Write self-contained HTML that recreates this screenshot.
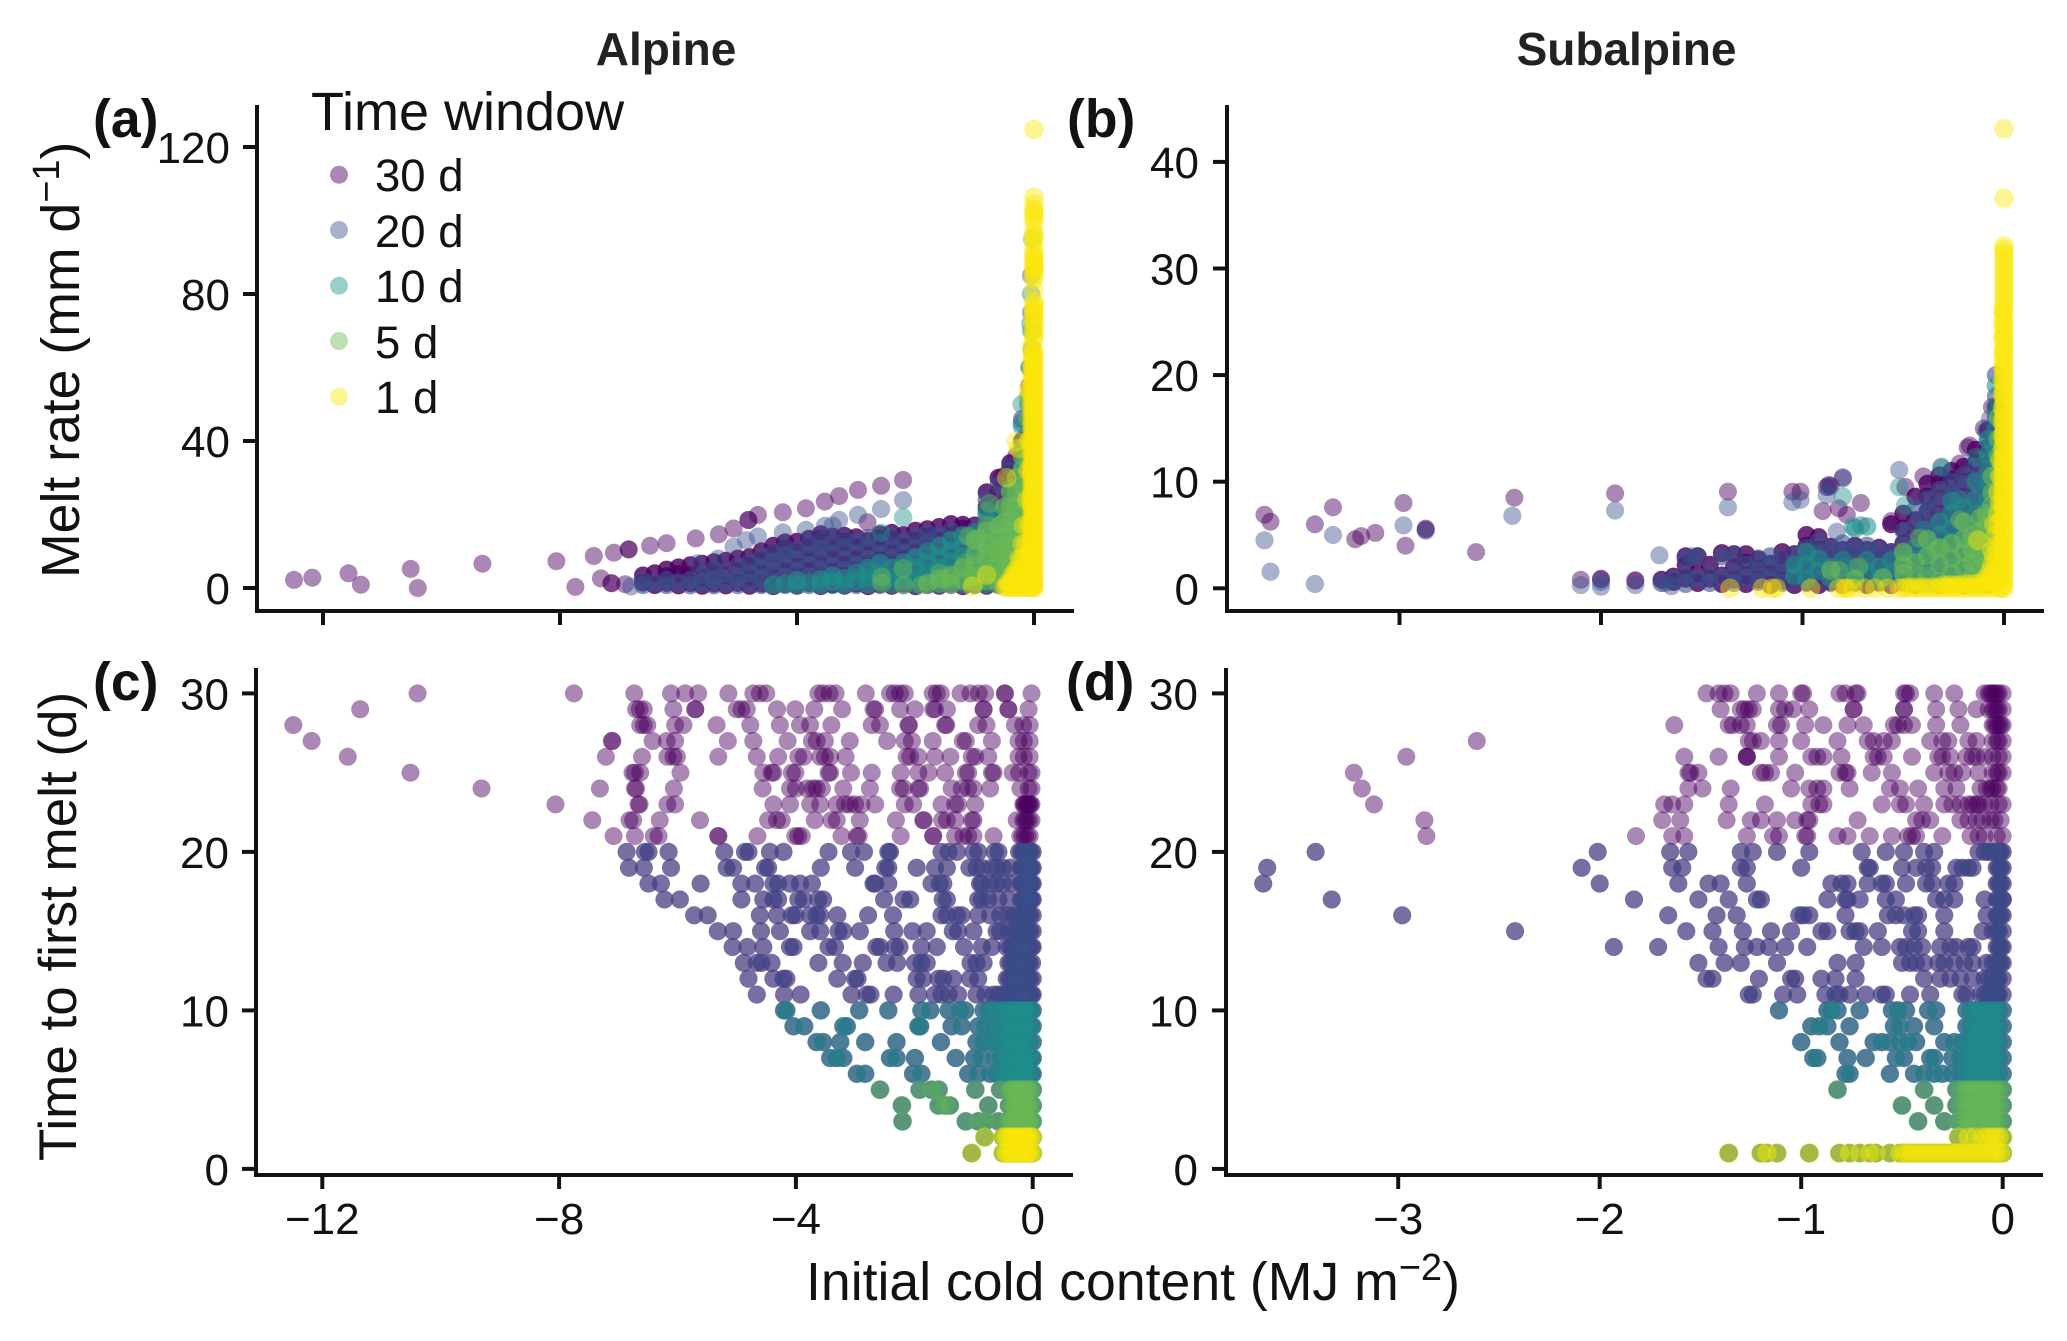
<!DOCTYPE html>
<html lang="en">
<head>
<meta charset="utf-8">
<title>Melt rate and time to first melt versus initial cold content</title>
<style>
html,body{margin:0;padding:0;background:#fff}
svg{display:block}
text{font-family:"Liberation Sans",Arial,sans-serif;fill:#12120e}
.tick{font-size:44px}
.title{font-size:46px;font-weight:bold;fill:#222;text-anchor:middle}
.tag{font-size:53.5px;font-weight:bold}
.axt{font-size:53px}
.leg{font-size:45.5px}
</style>
</head>
<body>
<svg id="fig" xmlns="http://www.w3.org/2000/svg" width="2067" height="1341" viewBox="0 0 2067 1341">
<text class="title" x="666" y="65">Alpine</text>
<text class="title" x="1626.5" y="65">Subalpine</text>
<text class="tag" x="93" y="137">(a)</text>
<text class="tag" x="1067" y="137">(b)</text>
<text class="tag" x="93" y="700">(c)</text>
<text class="tag" x="1066" y="700">(d)</text>
<text class="axt" transform="translate(79,578) rotate(-90)" style="font-size:53.6px">Melt rate (mm d<tspan font-size="38" dy="-20">−1</tspan><tspan dy="20">)</tspan></text>
<text class="axt" transform="translate(76,1161) rotate(-90)">Time to first melt (d)</text>
<text class="axt" x="806" y="1300" style="font-size:53.6px">Initial cold content (MJ m<tspan font-size="38" dy="-20">−2</tspan><tspan dy="20">)</tspan></text>
<g id="marks"></g>
<g id="axes"></g>
<g id="legend">
<text x="311" y="130" style="font-size:54px">Time window</text>
</g>
</svg>
<script>
const windows = [30, 20, 10, 5, 1];
const windowMaxDay = [30, 20, 10, 5, 2];
const windowColors = ['#4a0060', '#3a4f8b', '#1e908a', '#6ab955', '#fbe70a'];
const windowLabels = ['30 d', '20 d', '10 d', '5 d', '1 d'];

const aXTicks = [-12, -8, -4, 0];
const aYTicks = [0, 40, 80, 120];
const bXTicks = [-3, -2, -1, 0];
const bYTicks = [0, 10, 20, 30, 40];
const cXTicks = [-12, -8, -4, 0];
const cYTicks = [0, 10, 20, 30];
const dXTicks = [-3, -2, -1, 0];
const dYTicks = [0, 10, 20, 30];

/* Panel (a): alpine melt rate, [cold content, melt rate] */
const a30 = [[-12.49,2.2],[-12.18,2.8],[-11.57,4],[-11.36,.9],[-10.52,5.2],[-10.4,0],[-9.31,6.6],[-8.06,7.3],[-7.74,.3],[-7.43,8.7],[-7.09,9.6],[-6.84,10.5],[-6.84,10.5],[-7.31,2.6],[-7.13,1.3],[-7.13,1.3],[-6.9,1],[-6.48,11.5],[-6.2,12.2],[-5.71,13.5],[-5.32,14.6],[-5.07,16.2],[-4.82,18.5],[-4.82,18.5],[-4.66,19.9],[-4.24,20.6],[-3.85,21.7],[-3.53,23.5],[-3.29,25],[-2.97,26.7],[-2.58,27.8],[-2.21,29.4],[-2.81,17.9],[-.55,30],[-.5,30.5],[-.4,33],[-.3,36],[-.2,37],[-.15,41],[-.1,45],[-.08,55]];
const a20 = [[-2.21,23.9],[-2.58,21.5],[-2.97,19.9],[-3.29,18.5],[-3.53,16.9],[-3.85,15.8],[-4.24,15.1],[-4.66,14],[-4.86,13],[-5.07,11.2],[-5.33,8],[-5.68,6.7],[-3.4,17],[-6.8,.4],[-.1,50],[-.08,60],[-.05,75],[-.21,45],[-.06,52],[-.04,65],[-.05,85]];
const a10 = [[-2.21,19.2],[-2.58,15],[-.21,50],[-.06,72],[-.07,60],[-.05,80],[-.03,70]];
const a5 = [[-2.57,3],[-2.57,1.3],[-2.21,5.3],[-2.2,.8],[-1.9,.8],[-1.6,4],[-1.6,1.3],[-1.43,2.6],[-1.11,14],[-.94,13.5],[-.79,11.2],[-.75,23],[-.79,17],[-1.17,6.7],[-1.05,3],[-.03,95],[-.05,70],[-.07,50]];
const a1Sparse = [[-1.04,.5],[-.8,3.5],[-.46,30],[-.3,39.8],[-.26,38],[-.1,54],
[-.5,.2],[-.46,.2],[-.42,.2],[-.38,.2],[-.34,.2],[-.3,.2],[-.26,.2],[-.22,.2],[-.18,.2],[-.14,.2],[-.1,.2],[-.06,.2],[-.02,.2],
[-.44,1.5],[-.4,1.5],[-.36,1.5],[-.32,1.5],[-.28,1.5],[-.24,1.5],[-.2,1.5],[-.16,1.5],[-.12,1.5],[-.08,1.5],[-.04,1.5],
[-.36,3.5],[-.32,3.5],[-.28,3.5],[-.24,3.5],[-.2,3.5],[-.16,3.5],[-.12,3.5],[-.08,3.5],[-.04,3.5],
[-.3,5],[-.26,5],[-.22,5],[-.18,5],[-.14,5],[-.1,5],[-.06,5],
[-.25,8],[-.21,8],[-.17,8],[-.13,8],[-.09,8],[-.05,8],
[-.2,12],[-.15,12],[-.1,12],[-.05,12],[-.18,17],[-.1,17],[-.05,17],[-.12,24],[-.06,24],[-.1,32],[-.05,32],[-.08,40]];
const a1BarRates = [124.8,106.4,104.5,103,102.3,101.5,100.6,99.5,97,96.2,95.3,94,92,91,90.2,89.5,88.7,88,87.5,87,86,85,84,81,78,77.3,76.5,75.8,75,74.2,73.5,72.5,71.5,70.5,69.5,68.5,67.5,64.5,63.5,62.5,61.5,60.5,59.5,58.5,57.5,56.5,55.5,54.5,53.5,52.5,51.5,50.5,49.5,48.5,47.5,46.5,45.5,44.5,43.5,42.5,41.5,40.5,39.5,38.5,37.5,36.5,35.5,34.5,33.5,32.5,31.5,30.5,29.5,28.5,27.5,26.5,25.5,24.5,23.5,22.5,21.5,20.5,19.5,18.5,17.5,16.5,15.5,14.5,13.5,12.5,11.5,10.5,9.5,8.5,7.5,6.5,5.5,4.5,3.5,2.5,1.5,.5,0];
const a1BarCold = 0;
const a1SecondRates = [66,64.4,62.9,61.4,59.8,58.2,56.7,55.1,53.6,52,50.5,49,47.4,45.9,44.3,42.8,41.2,39.7,38.1,36.6,35,33.5,31.9,30.4,28.8,27.3,25.7,24.2,22.6,21.1,19.5,18,16.4,14.9,13.3,11.8,10.2,8.7,7.1,5.6,4,2.5,.9];
const a1SecondCold = -0.035;

/* Panel (a) dense cloud, read column by column: cold content and the melt rates in each column */
const aCloudCold = [-6.6,-6.4,-6.2,-6,-5.8,-5.6,-5.4,-5.2,-5,-4.8,-4.6,-4.4,-4.2,-4,-3.8,-3.6,-3.4,-3.2,-3,-2.8,-2.6,-2.4,-2.2,-2,-1.8,-1.6,-1.4,-1.2,-1,-.8,-.6,-.4,-.2];
const a30CloudRates = [[1.5,3.4],[.8,4],[1.4,3.2,5],[.7,3.8,5.6],[1.3,3.5,6.2],[.6,2.8,6.6],[1.2,4.4,7],[.7,3.4,7.4],[1.4,4.6,8],[.6,3,6,8.4],[1.2,4.2,7.5,10],[.5,3.2,6.4,9.5,11.5],[1.1,4.6,7.8,11,12.4],[.6,3.4,6.6,9.6,12.6],[1.3,4.8,8,11,13.4],[.5,3.6,6.8,10,13.2,14.6],[1,4.4,7.6,10.8,14],[.6,3.4,6.4,9.8,12.6,14.2],[1.2,4.6,7.8,11,13.8],[.5,3.2,6.6,9.6,12.8],[1.1,4.2,7.4,10.6,13.6,14.6],[.6,3.6,6.8,10,13.2,15],[1.2,4.8,8,11.2,14.4],[.5,3.4,6.6,9.8,13,15.6],[1,4.4,7.6,10.8,14,16],[.6,3.2,6.4,9.6,12.8,16.6],[1.2,4.6,7.8,11,14.2,17.4],[.5,3.4,6.6,9.8,13,16.2,17.2],[1,4.2,7.4,10.6,13.8,17],[.6,3.6,7,10.4,13.8,17.2,22,26],[1.2,4.8,8.2,11.6,15,18.4,21.8,26,30],[.8,4,7.6,11,14.4,17.8,21.2,24.6,28,31,34],[1,4.4,8,12,16,20,24,28,32,36,40]];
const a20CloudRates = [[.8,2],[1.4],[.8,2.2],[1.5],[.7,2.2],[1.4,3.6],[.7,2.4,5],[1.5,4],[.8,2.6,6],[1.5,4,7],[.8,2.8,5.5,8.4],[1.5,4.4,7.2,9.6],[.8,3,6,9,11],[1.5,4.4,7.4,10.4],[.8,3,6.2,9.2,12],[1.5,4.4,7.6,10.8,13],[.8,3,6,9.4,12.4],[1.6,4.6,7.8,11,13.4],[.8,3,6.2,9.4,12.6],[1.6,4.4,7.6,10.8,13.6],[.8,3,6,9.2,12.2],[1.6,4.6,7.6,11,14],[.8,3,6.2,9.4,12.6],[1.6,4.4,7.6,10.8,14.2],[.8,3,6,9.2,12.4,15],[1.6,4.6,7.8,11,14.4],[.8,3,6.2,9.4,12.6,15.6],[1.6,4.4,7.6,10.8,14],[.8,3,6,9.4,12.6,15.8],[1.6,4.6,8,11.4,14.8,20,24],[.8,3,6.4,10,13.6,17,22,28],[1.6,5,8.6,12.2,15.8,19.4,24,30,33],[1,4,8,12,16,20,24,28,34,40,46]];
const a10CloudCold = [-4.4,-4.2,-4,-3.8,-3.6,-3.4,-3.2,-3,-2.8,-2.6,-2.4,-2.2,-2,-1.8,-1.6,-1.4,-1.2,-1,-.8,-.6,-.4,-.2];
const a10CloudRates = [[.8],[1.2],[.7,2.2],[1.4],[.8,2.4],[1.6,3.4],[.8,2.6],[1.8,4.2],[1,3,5.5],[1.8,4,6.8],[1,3,5.6],[1.8,4.2,7],[1,3,5.6,8.4],[1.8,4.2,7,10],[1,3,5.6,8.6,11.4],[1.8,4.4,7.2,10.2,13],[1,3,5.8,8.6,11.6,14.4],[1.8,4.4,7.4,10.4,13.4,15],[1,3,6,9,12,15,18,21],[1.8,4.6,7.6,10.6,13.6,16.6,20],[1,3.6,6.6,9.6,12.6,15.6,19,23,27],[1,4,7,10,13,16,20,24,28,33,38,44]];
const a5CloudCold = [-1.8,-1.6,-1.4,-1.2,-1,-.8,-.6,-.5,-.4,-.3,-.2,-.1];
const a5CloudRates = [[1.2],[2.5],[1,3.4],[2,5.5],[1,3.4,6,9,13],[2,4.4,7,9.5,12,15.6],[1.2,3.6,6.4,9,11.6,14.4,17],[2.4,5.2,8,11,14,18,22],[1,3.6,6.4,9.2,12,15,18,22,26],[2,5,8,11,14,18,22,26,30],[1,4,7,10,13,16,20,24,28,32,36],[2,6,10,14,18,22,26,30,35,40,46,52]];

/* Panel (b): subalpine melt rate, [cold content, melt rate] */
const b30 = [[-3.67,6.9],[-3.64,6.25],[-3.42,6],[-3.33,7.6],[-3.22,4.6],[-3.19,4.9],[-3.12,5.2],[-2.98,8],[-2.97,4],[-2.87,5.5],[-2.87,5.6],[-2.62,3.4],[-2.43,8.5],[-1.93,8.9],[-1.37,9.06],[-2.1,.8],[-2,.85],[-2,.9],[-1.83,.7],[-1.83,.75],[-1.05,9.06],[-1.01,9.06],[-.87,9.7],[-.88,9.5],[-.86,9.6],[-.8,10.4],[-.9,7.25],[-.82,7.5],[-.71,8],[-.78,6.9],[-.49,9.5],[-.56,6.3],[-.4,10.5],[-.22,11.7],[-.17,13.4],[-.18,13.2],[-.1,15],[-.06,17]];
const b20 = [[-3.67,4.5],[-3.64,1.56],[-3.42,.4],[-3.33,5],[-2.98,5.9],[-2.87,5.4],[-2.44,6.8],[-1.93,7.3],[-1.37,7.6],[-2.1,.3],[-2,.15],[-2,.6],[-1.83,.3],[-1.05,8.1],[-1.01,8.3],[-.88,8.75],[-.87,9.5],[-.8,10.3],[-.83,5.3],[-.71,5.9],[-.52,11.1],[-.31,11.4],[-.07,15.9],[-.09,14.8],[-1.71,3.1],[-1.68,.5],[-1.65,.2],[-1.55,3]];
const b10 = [[-.8,8.6],[-.75,5.8],[-.52,9.5],[-.49,7.8],[-.31,11.3],[-.14,12.3],[-.4,5.5],[-.22,8.3]];
const b5 = [[-.82,1.7],[-.72,2],[-.42,4.7],[-.34,3.6],[-.22,6.4]];
const b1Sparse = [[-1.36,0],[-1.2,0],[-1.15,0],[-1.13,0],[-.96,0],[-.82,0],[-.79,0],[-.78,0],[-.75,0],[-.69,0],[-.64,0],[-.58,0],[-.13,4.5],
[-.52,0],[-.5,0],[-.48,.1],[-.46,0],[-.44,.1],[-.42,0],[-.4,.1],[-.38,0],[-.36,.1],[-.34,0],[-.32,.1],[-.3,0],[-.28,.1],[-.26,0],[-.24,.1],[-.22,0],[-.2,.1],[-.18,0],[-.16,.1],[-.14,0],[-.12,.1],[-.1,0],[-.08,.1],[-.06,0],[-.04,.1],[-.02,0],
[-.3,.3],[-.27,.3],[-.24,.3],[-.21,.3],[-.18,.4],[-.15,.4],[-.12,.5],[-.09,.6],[-.06,.6],[-.03,.6],
[-.09,1],[-.07,1],[-.05,1],[-.03,1],[-.07,1.6],[-.05,1.6],[-.03,1.6],[-.06,2.2],[-.04,2.2],[-.02,2.2],[-.05,3],[-.03,3],[-.06,3.5],[-.04,4],[-.02,4],[-.04,5],[-.03,6],[-.05,6],[-.03,7],[-.02,8],[-.03,9],[-.02,10.5],[-.02,12]];
const b1BarRates = [43.1,36.6,32.1,31.8,31.5,31.2,30.8,30.4,30,29.6,29.2,28.8,28.4,28,27.6,27.2,26.8,26.4,26,25.6,25.2,24.8,24.4,24,23.6,23.2,22.8,22.4,22,21.6,21.2,20.8,20.4,20,19.6,19.2,18.8,18.4,18,17.6,17.2,16.8,16.4,16,15.6,15.2,14.8,14.4,14,13.6,13.2,12.8,12.4,12,11.6,11.2,10.8,10.4,10,9.6,9.2,8.8,8.4,8,7.6,7.2,6.8,6.4,6,5.6,5.2,4.8,4.4,4,3.6,3.2,2.8,2.4,2,1.6,1.2,.8,.4,0];
const b1BarCold = 0;
const b1SecondRates = [26,24.8,23.5,22.1,20.8,19.5,18.2,16.9,15.6,14.3,13,11.7,10.4,9.1,7.8,6.5,5.2,3.9,2.6,1.3,0];
const b1SecondCold = -0.008;

/* Panel (b) dense cloud, read column by column */
const bCloudCold = [-1.7,-1.64,-1.58,-1.52,-1.46,-1.4,-1.34,-1.28,-1.22,-1.16,-1.1,-1.04,-.98,-.92,-.86,-.8,-.74,-.68,-.62,-.56,-.5,-.44,-.38,-.32,-.26,-.2,-.14,-.08,-.04];
const b30CloudRates = [[.8],[.6,1.1],[.9,2.2,3],[.5,1.4,3],[.9,2.2],[.4,1.2,3.3],[.8,2,3.2],[.4,1.2,2.4,3.2],[.8,1.8,2.7],[.3,1.3,2.3],[.7,1.7,2.6,3.4],[.3,1.2,2.2,3.2],[.6,1.6,2.8,4,5],[.3,1.2,2.4,3.6,4.8],[.6,1.7,2.8,3.9],[.3,1.2,2.4,3.6],[.6,1.7,2.8,4],[.3,1.2,2.4,3.6],[.6,1.7,2.8,3.8],[.3,1.2,2.4,3.4,6],[.6,1.8,3,4.2,5.6,7],[.3,1.3,2.5,3.8,5,6.4,8.6],[.6,1.8,3,4.4,5.8,7.2,8.6,9.8],[.3,1.4,2.8,4.2,5.6,7,8.4,9.8,10.6],[.6,1.9,3.2,4.6,6,7.4,8.8,10.2,11],[.3,1.6,3,4.4,5.8,7.2,8.6,10,11.4],[.6,2,3.4,4.8,6.2,7.6,9,10.4,11.8,13],[.4,2,3.6,5.2,6.8,8.4,10,11.6,13.2,14.8],[1,3,5,7,9,11,13,15,17]];
const b20CloudRates = [[.5],[.9],[.4,1.2,2.8],[.9,3],[.5,1.4],[1,3],[.5,1.5,3.2],[1,2.2],[.6,1.6,2.8],[1,2,3],[.5,1.5,2.6],[1,2.1,3.2],[.5,1.6,2.8,3.8],[1,2.2,3.4,4.4],[.5,1.6,2.8,3.8],[1,2.2,3.4,4.2],[.5,1.6,2.8,3.8],[1,2.2,3.4,4],[.5,1.6,2.8,3.6],[1,2.2,3.4],[.5,1.6,2.8,4,5.4],[1,2.2,3.4,4.6,6,7.4],[.5,1.7,3,4.4,5.8,7.2,8.4],[1,2.3,3.6,5,6.4,7.8,9.2],[.5,1.8,3.2,4.6,6,7.4,8.8,10],[1,2.4,3.8,5.2,6.6,8,9.4,10.6],[.5,1.9,3.3,4.7,6.1,7.5,8.9,10.3,11.5],[1,2.6,4.2,5.8,7.4,9,10.6,12.2,13.8],[2,4,6,8,10,12,14,16,18,20]];
const b10CloudCold = [-1.04,-.98,-.92,-.86,-.8,-.74,-.68,-.62,-.56,-.5,-.44,-.38,-.32,-.26,-.2,-.14,-.08,-.04];
const b10CloudRates = [[1.2,2.2],[.8,2.2,3.4],[1.6,2.8],[.9,2],[1.4,2.6],[.8,2,5.6],[1.4,2.6,5.8],[.8,2],[1.4,2.6],[.8,2,3.2],[1.4,2.6,3.8],[.8,2,3.2,4.4],[1.4,2.6,3.8,5,6.2],[.8,2,3.2,4.4,5.6,7,8.2],[1.4,2.6,3.8,5,6.2,7.6],[.8,2,3.2,4.4,5.6,7,8.4,10],[1.4,2.8,4.2,5.6,7,8.4,9.8,11.2,12.6,14],[1,3,5,7,9,11,13,15,17,19]];
const b5CloudCold = [-.86,-.74,-.6,-.5,-.44,-.38,-.32,-.26,-.2,-.16,-.12,-.09,-.06,-.03];
const b5CloudRates = [[1.7],[.9],[1],[1.4,2.2,3.4],[.7,2.4],[1.2,3,4.6],[.6,2.2,3.8],[1.4,2.8,4.2],[.6,2,3.4,4.6,6.2],[1,2.4,3.6,5],[.6,1.8,3,4.2,5.4,6.6],[1,2.2,3.4,4.6,5.8,7],[.6,1.8,3,4.2,5.4,6.6,7.8,9,10.5],[1.2,2.8,4.4,6,7.6,9.2,10.8,12.4,14,16]];

/* Panels (c, d): days to first melt and the cold content of each event on that day */
const meltDays = [30,29,28,27,26,25,24,23,22,21,20,19,18,17,16,15,14,13,12,11,10,9,8,7,6,5,4,3,2,1];
const cCold = [
[-10.39,-7.75,-6.73,-6.11,-5.87,-5.65,-5.14,-4.72,-4.61,-4.5,-3.62,-3.54,-3.43,-3.33,-2.82,-2.41,-2.33,-2.24,-2.16,-1.69,-1.62,-1.55,-1.22,-1.05,-.91,-.8,-.47,-.47,-.02],
[-11.36,-6.7,-6.64,-6.57,-6.07,-5.7,-5.7,-5,-4.92,-4.83,-4.32,-4.01,-3.69,-3.22,-2.69,-2.66,-2.24,-1.99,-1.68,-1.65,-1.45,-.83,-.83,-.41,-.41,-.07],
[-12.49,-6.63,-6.57,-6.51,-6.04,-5.9,-5.34,-4.77,-4.27,-3.93,-3.76,-3.4,-2.72,-2.58,-2.1,-2.09,-1.48,-1.46,-.92,-.78,-.3,-.16,-.05],
[-12.18,-7.11,-7.1,-6.42,-6.18,-6.04,-5.15,-4.72,-4.14,-3.73,-3.65,-3.51,-3.09,-2.46,-2.16,-2.04,-1.69,-1.18,-1.13,-.69,-.24,-.15,-.05],
[-11.57,-7.21,-6.6,-6.17,-6.07,-6.01,-5.31,-4.66,-4.3,-3.96,-3.87,-3.59,-3.51,-3.42,-3.16,-2.13,-2.07,-1.93,-1.65,-1.39,-1.03,-.97,-.75,-.24,-.15,-.05],
[-10.51,-6.76,-6.72,-6.63,-5.95,-4.55,-4.41,-4.38,-4.07,-4.01,-3.45,-3.42,-3.07,-2.72,-2.23,-1.93,-1.76,-1.48,-1.13,-1.09,-.69,-.66,-.34,-.23,-.07,-.02],
[-9.31,-7.31,-6.72,-6.7,-6.06,-4.56,-4.1,-4,-3.81,-3.71,-3.65,-3.56,-3.2,-2.75,-2.24,-2.18,-1.93,-1.9,-1.37,-1.2,-1.09,-1,-.72,-.21,-.07,-.02],
[-8.06,-6.66,-6.64,-6.17,-6.04,-4.38,-4.1,-3.76,-3.59,-3.31,-3.17,-3.09,-3,-2.89,-2.66,-2.16,-2.02,-1.54,-1.31,-1.26,-.97,-.16,-.13,-.1,-.06,-.02,-.14,-.08,-.04],
[-7.44,-6.81,-6.75,-6.3,-5.62,-4.47,-4.32,-4.24,-3.68,-3.4,-3.31,-2.92,-2.31,-1.85,-1.84,-1.53,-1.45,-1.31,-1.03,-1,-.27,-.16,-.1,-.02,-.13,-.06],
[-7.08,-6.72,-6.4,-6.32,-5.31,-5.31,-4.65,-4.01,-3.96,-3.9,-3.23,-2.97,-2.94,-2.23,-1.68,-1.68,-1.31,-1.17,-1.09,-1,-.66,-.21,-.13,-.05,-.17,-.09],
[-6.86,-6.55,-6.49,-6.15,-5.21,-4.86,-4.8,-4.44,-4.21,-3.45,-3.07,-2.85,-2.44,-2.41,-1.54,-1.42,-1.28,-1,-.92,-.64,-.58,-.23,-.19,-.15,-.11,-.07,-.03,0],
[-6.82,-6.57,-6.11,-5.17,-5.06,-4.52,-4.47,-3.58,-3,-2.49,-2.44,-1.96,-1.65,-1.45,-1.07,-.95,-.86,-.69,-.61,-.5,-.38,-.2,-.17,-.14,-.11,-.08,-.05,-.02,0],
[-6.49,-6.28,-5.61,-4.92,-4.69,-4.38,-4.3,-4.1,-3.93,-3.73,-2.69,-2.66,-2.44,-1.71,-1.57,-1.51,-.89,-.86,-.72,-.61,-.5,-.35,-.2,-.17,-.14,-.11,-.08,-.05,-.02,0],
[-6.22,-5.96,-4.92,-4.55,-4.38,-4.3,-3.96,-3.87,-3.62,-3.54,-2.51,-2.18,-2.07,-1.52,-1.45,-.92,-.86,-.75,-.58,-.41,-.2,-.17,-.14,-.11,-.08,-.05,-.02,0],
[-5.72,-5.49,-4.61,-4.32,-4.07,-4.01,-3.76,-3.65,-3.59,-3.3,-2.78,-2.36,-1.54,-1.45,-1.28,-1.2,-.92,-.72,-.55,-.44,-.32,-.26,-.2,-.16,-.12,-.08,-.04,0],
[-5.32,-5.06,-4.59,-4.27,-3.76,-3.59,-3.28,-3.2,-2.92,-2.34,-2.03,-1.79,-1.35,-1.26,-1,-.61,-.55,-.41,-.32,-.26,-.2,-.16,-.12,-.08,-.04,0],
[-5.07,-4.82,-4.55,-4.1,-4.04,-3.45,-3.34,-2.64,-2.58,-2.33,-2.25,-1.88,-1.62,-1.16,-.86,-.69,-.44,-.38,-.34,-.3,-.26,-.22,-.18,-.14,-.1,-.06,-.02,0],
[-4.88,-4.66,-4.58,-4.41,-3.62,-3.21,-2.87,-2.47,-2.29,-1.99,-1.88,-1.79,-1.05,-.95,-.83,-.41,-.37,-.33,-.29,-.25,-.21,-.17,-.13,-.09,-.05,-.01],
[-4.8,-4.38,-4.21,-4.16,-3.3,-3,-2.96,-1.96,-1.85,-1.59,-1.51,-1.34,-1.06,-.92,-.44,-.4,-.36,-.32,-.28,-.24,-.2,-.16,-.12,-.08,-.04,0],
[-4.66,-4.2,-3.92,-3.06,-2.8,-2.74,-2.35,-1.93,-1.65,-1.54,-1.42,-1.26,-.95,-.8,-.66,-.58,-.5,-.44,-.38,-.34,-.3,-.26,-.22,-.18,-.14,-.1,-.06,-.02,0],
[-4.2,-4.16,-3.58,-2.93,-2.44,-1.88,-1.73,-1.42,-1.23,-1.14,-.83,-.75,-.66,-.58,-.5,-.44,-.38,-.33,-.28,-.23,-.18,-.13,-.08,-.03,0],
[-4.04,-3.86,-3.2,-3.14,-1.93,-1.9,-1.37,-1.2,-.92,-.8,-.69,-.58,-.5,-.44,-.38,-.33,-.28,-.23,-.18,-.13,-.08,-.03,0],
[-3.65,-3.54,-3.25,-2.83,-2.3,-1.55,-.95,-.83,-.72,-.61,-.52,-.46,-.4,-.35,-.3,-.25,-.2,-.15,-.1,-.05,0],
[-3.42,-3.31,-3.2,-2.41,-2.3,-1.99,-1.3,-.99,-.86,-.64,-.54,-.48,-.42,-.37,-.32,-.27,-.22,-.17,-.12,-.07,-.02,0],
[-2.97,-2.83,-2.02,-1.88,-1.09,-.92,-.72,-.61,-.54,-.48,-.42,-.37,-.32,-.27,-.22,-.17,-.12,-.07,-.02,0],
[-2.58,-1.91,-1.71,-1.59,-.97,-.55,-.4,-.36,-.32,-.28,-.24,-.2,-.16,-.12,-.08,-.04,0],
[-2.21,-1.59,-1.48,-1.4,-.75,-.4,-.36,-.32,-.28,-.24,-.2,-.16,-.12,-.08,-.04,0],
[-2.2,-1.13,-.92,-.8,-.58,-.42,-.38,-.34,-.3,-.26,-.22,-.18,-.14,-.1,-.06,-.02,0],
[-.81,-.5,-.46,-.42,-.38,-.34,-.3,-.26,-.22,-.18,-.14,-.1,-.06,-.02,0],
[-1.03,-.5,-.46,-.42,-.38,-.34,-.3,-.26,-.22,-.18,-.14,-.1,-.06,-.02,0]
];
const dCold = [
[-1.47,-1.41,-1.38,-1.35,-1.22,-1.11,-1,-.99,-.81,-.78,-.73,-.72,-.49,-.48,-.46,-.34,-.24,-.09,-.07,-.05,-.03,0,-.06,-.04,-.02],
[-1.4,-1.3,-1.28,-1.26,-1.24,-1.11,-1.08,-1.04,-.96,-.74,-.74,-.49,-.49,-.33,-.22,-.13,-.05,-.02,0,-.07,-.04,-.03],
[-1.63,-1.36,-1.34,-1.3,-1.27,-1.12,-1.1,-.98,-.89,-.77,-.69,-.54,-.52,-.49,-.45,-.33,-.21,-.05,-.04,-.02,0,-.03,-.01],
[-2.61,-1.26,-1.24,-1.2,-1.11,-1,-.82,-.67,-.64,-.59,-.55,-.36,-.3,-.27,-.17,-.13,-.05,-.02,0,-.03],
[-2.96,-1.58,-1.41,-1.27,-1.27,-1.27,-1.11,-.95,-.92,-.89,-.8,-.64,-.62,-.59,-.45,-.32,-.3,-.26,-.18,-.15,-.13,-.09,-.05,-.02,0],
[-3.22,-1.56,-1.55,-1.51,-1.2,-1.18,-1.15,-1.03,-.81,-.78,-.77,-.65,-.55,-.34,-.27,-.24,-.2,-.12,-.05,-.02,0,-.03],
[-3.18,-1.56,-1.49,-1.35,-1.05,-.96,-.92,-.89,-.76,-.56,-.51,-.42,-.29,-.23,-.11,-.08,-.05,-.02,-.06,-.03],
[-3.12,-1.68,-1.64,-1.58,-1.36,-1.18,-.95,-.91,-.89,-.6,-.51,-.48,-.39,-.29,-.25,-.21,-.17,-.15,-.12,-.06,-.02,0,-.13,-.09],
[-2.87,-1.69,-1.6,-1.37,-1.25,-1.2,-1.12,-1.03,-.97,-.96,-.72,-.43,-.4,-.36,-.21,-.17,-.13,-.1,-.06,-.04,-.01],
[-2.86,-1.82,-1.64,-1.58,-1.27,-1.14,-1.11,-.98,-.97,-.82,-.77,-.66,-.55,-.47,-.45,-.43,-.3,-.16,-.12,-.09,-.03,0],
[-3.41,-2.01,-1.65,-1.56,-1.3,-1.24,-1.12,-.96,-.7,-.58,-.49,-.39,-.34,-.12,-.09,-.05,-.01,0,-.07,-.03,-.02],
[-3.65,-2.09,-1.64,-1.59,-1.3,-1.27,-1,-.67,-.66,-.5,-.43,-.38,-.35,-.23,-.2,-.17,-.15,-.03,0,-.02,-.01],
[-3.67,-2,-1.61,-1.46,-1.4,-1.27,-.85,-.8,-.77,-.67,-.6,-.58,-.48,-.38,-.35,-.27,-.24,-.02,0,-.03,-.01],
[-3.33,-1.83,-1.51,-1.36,-1.22,-1.2,-.87,-.78,-.77,-.71,-.58,-.53,-.33,-.29,-.24,-.09,0,0,-.03,-.02],
[-2.98,-1.66,-1.42,-1.32,-1.01,-.99,-.96,-.78,-.57,-.53,-.49,-.44,-.42,-.29,-.08,-.03,0,-.02,-.01],
[-2.42,-1.57,-1.44,-1.29,-1.15,-1.05,-.9,-.87,-.76,-.73,-.71,-.62,-.45,-.42,-.29,-.1,-.05,0,-.03,-.02],
[-1.93,-1.71,-1.41,-1.28,-1.22,-1.16,-1.08,-.97,-.69,-.6,-.51,-.48,-.44,-.4,-.31,-.26,-.23,-.17,-.15,-.03,0,-.02,-.01],
[-1.51,-1.38,-1.3,-1.12,-.82,-.73,-.5,-.46,-.43,-.39,-.32,-.29,-.24,-.19,-.15,-.08,-.03,0,-.05,-.02,-.01],
[-1.47,-1.44,-1.21,-1.05,-1.03,-.9,-.83,-.73,-.39,-.31,-.26,-.21,-.15,-.05,0,-.09,-.07,-.03,-.02],
[-1.26,-1.24,-1.09,-1.02,-.88,-.83,-.81,-.76,-.68,-.6,-.58,-.46,-.36,-.2,-.18,-.09,-.05,0,-.11,-.07,-.03,-.02],
[-1.11,-.87,-.85,-.82,-.71,-.55,-.52,-.48,-.37,-.33,-.18,-.16,-.14,-.12,-.1,-.08,-.06,-.04,-.02,0],
[-.95,-.91,-.87,-.76,-.54,-.51,-.44,-.34,-.18,-.16,-.14,-.12,-.1,-.08,-.06,-.04,-.02,0],
[-1,-.81,-.64,-.6,-.56,-.51,-.47,-.43,-.29,-.24,-.2,-.18,-.16,-.14,-.12,-.1,-.08,-.06,-.04,-.02,0],
[-.94,-.92,-.77,-.68,-.53,-.49,-.36,-.34,-.25,-.21,-.18,-.16,-.14,-.12,-.1,-.08,-.06,-.04,-.02,0],
[-.78,-.76,-.56,-.44,-.39,-.34,-.3,-.25,-.21,-.18,-.16,-.14,-.12,-.1,-.08,-.06,-.04,-.02,0],
[-.82,-.39,-.23,-.2,-.18,-.16,-.14,-.12,-.1,-.08,-.06,-.04,-.02,0],
[-.5,-.34,-.23,-.2,-.18,-.16,-.14,-.12,-.1,-.08,-.06,-.04,-.02,0],
[-.42,-.29,-.22,-.2,-.18,-.16,-.14,-.12,-.1,-.08,-.06,-.04,-.02,0],
[-.22,-.17,-.14,-.1,-.08,-.06,-.04,-.02,0],
[-1.36,-1.2,-1.17,-1.12,-.96,-.81,-.76,-.71,-.66,-.63,-.56,-.51,-.49,-.47,-.45,-.43,-.41,-.39,-.37,-.35,-.33,-.31,-.29,-.27,-.25,-.23,-.21,-.19,-.17,-.15,-.13,-.11,-.09,-.07,-.05,-.03,-.01,0]
];

const NS = 'http://www.w3.org/2000/svg';
const marksLayer = document.getElementById('marks');
const axesLayer = document.getElementById('axes');
const legendLayer = document.getElementById('legend');
const dotRadii = [9, 9.1, 9.3, 9.5, 9.8];
const dotOpacities = [0.47, 0.44, 0.44, 0.44, 0.44];
const cloudOpacities = [0.82, 0.6, 0.58, 0.6, 0.44];
const inkColor = '#12120e';

const xA = v => 1034 + 59.25 * v;
const yA = v => 588 - 3.675 * v;
const xB = v => 2004 + 201.5 * v;
const yB = v => 588.3 - 10.66 * v;
const xC = v => 1032.7 + 59.2 * v;
const yC = v => 1168.9 - 15.85 * v;
const xD = v => 2002.7 + 201.5 * v;
const yD = yC;

function dot(parent, cx, cy, idx, seriesName, opacity) {
  const el = document.createElementNS(NS, 'circle');
  el.setAttribute('cx', cx.toFixed(1));
  el.setAttribute('cy', cy.toFixed(1));
  el.setAttribute('r', dotRadii[idx]);
  el.setAttribute('fill', windowColors[idx]);
  el.setAttribute('fill-opacity', opacity);
  
  
  parent.appendChild(el);
}

function seriesGroup(name) {
  const g = document.createElementNS(NS, 'g');
  
  
  marksLayer.appendChild(g);
  return g;
}

function drawSeries(panel, win, coldCols, rateCols, pairs, xf, yf) {
  const idx = windows.indexOf(win);
  const name = panel + '-point-' + win + 'd';
  const g = seriesGroup(panel + '-series-' + win + 'd');
  coldCols.forEach((c, i) => rateCols[i].forEach(r => dot(g, xf(c), yf(r), idx, name, cloudOpacities[idx])));
  pairs.forEach(p => dot(g, xf(p[0]), yf(p[1]), idx, name, dotOpacities[idx]));
  return g;
}

function drawMeltPanel(panel, coldRows, xf, yf) {
  windows.forEach((win, i) => {
    const g = seriesGroup(panel + '-series-' + win + 'd');
    meltDays.forEach((day, r) => {
      if (day > windowMaxDay[i]) return;
      coldRows[r].forEach(c => dot(g, xf(c), yf(day), i, panel + '-point-' + win + 'd', dotOpacities[i]));
    });
  });
}

function line(x1, y1, x2, y2, name) {
  const el = document.createElementNS(NS, 'line');
  el.setAttribute('x1', x1);
  el.setAttribute('y1', y1);
  el.setAttribute('x2', x2);
  el.setAttribute('y2', y2);
  el.setAttribute('stroke', inkColor);
  el.setAttribute('stroke-width', 4);
  el.setAttribute('stroke-linecap', 'square');
  
  
  axesLayer.appendChild(el);
}

function label(x, y, str, anchor, name) {
  const el = document.createElementNS(NS, 'text');
  el.setAttribute('x', x);
  el.setAttribute('y', y);
  el.setAttribute('class', 'tick');
  el.setAttribute('text-anchor', anchor);
  el.textContent = str;
  
  
  axesLayer.appendChild(el);
}

function tickText(v) {
  return v < 0 ? '\u2212' + Math.abs(v) : String(v);
}

function drawAxes(p) {
  line(p.left, p.top, p.left, p.bottom, p.id + '-y-axis-line');
  line(p.left, p.bottom, p.right, p.bottom, p.id + '-x-axis-line');
  p.yTicks.forEach(v => {
    line(p.left - 12, p.y(v), p.left, p.y(v), p.id + '-y-tick');
    label(p.labelRight, p.y(v) + 16, tickText(v), 'end', p.id + '-y-tick-label');
  });
  p.xTicks.forEach(v => {
    line(p.x(v), p.bottom, p.x(v), p.bottom + 12, p.id + '-x-tick');
    if (p.showX) label(p.x(v), 1234, tickText(v), 'middle', p.id + '-x-tick-label');
  });
}

drawSeries('panel-a', 30, aCloudCold, a30CloudRates, a30, xA, yA);
drawSeries('panel-a', 20, aCloudCold, a20CloudRates, a20, xA, yA);
drawSeries('panel-a', 10, a10CloudCold, a10CloudRates, a10, xA, yA);
drawSeries('panel-a', 5, a5CloudCold, a5CloudRates, a5, xA, yA);
const a1Group = drawSeries('panel-a', 1, [], [], a1Sparse, xA, yA);
a1SecondRates.forEach(v => dot(a1Group, xA(a1SecondCold), yA(v), 4, 'panel-a-point-1d', dotOpacities[4]));
a1BarRates.forEach(v => dot(a1Group, xA(a1BarCold), yA(v), 4, 'panel-a-point-1d', dotOpacities[4]));

drawSeries('panel-b', 30, bCloudCold, b30CloudRates, b30, xB, yB);
drawSeries('panel-b', 20, bCloudCold, b20CloudRates, b20, xB, yB);
drawSeries('panel-b', 10, b10CloudCold, b10CloudRates, b10, xB, yB);
drawSeries('panel-b', 5, b5CloudCold, b5CloudRates, b5, xB, yB);
const b1Group = drawSeries('panel-b', 1, [], [], b1Sparse, xB, yB);
b1SecondRates.forEach(v => dot(b1Group, xB(b1SecondCold), yB(v), 4, 'panel-b-point-1d', dotOpacities[4]));
b1BarRates.forEach(v => dot(b1Group, xB(b1BarCold), yB(v), 4, 'panel-b-point-1d', dotOpacities[4]));

drawMeltPanel('panel-c', cCold, xC, yC);
drawMeltPanel('panel-d', dCold, xD, yD);

drawAxes({id:'panel-a', left:257, right:1072, top:107, bottom:611, x:xA, y:yA, xTicks:aXTicks, yTicks:aYTicks, labelRight:230, showX:false});
drawAxes({id:'panel-b', left:1227, right:2042, top:107, bottom:611, x:xB, y:yB, xTicks:bXTicks, yTicks:bYTicks, labelRight:1199, showX:false});
drawAxes({id:'panel-c', left:256, right:1071, top:670, bottom:1175, x:xC, y:yC, xTicks:cXTicks, yTicks:cYTicks, labelRight:229, showX:true});
drawAxes({id:'panel-d', left:1226, right:2041, top:670, bottom:1175, x:xD, y:yD, xTicks:dXTicks, yTicks:dYTicks, labelRight:1198, showX:true});

const legendSwatchY = [174.7, 230, 285.7, 341, 396.7];
const legendTextY = [191, 247, 302, 358, 413];
windows.forEach((win, i) => {
  const swatch = document.createElementNS(NS, 'circle');
  swatch.setAttribute('cx', 339);
  swatch.setAttribute('cy', legendSwatchY[i]);
  swatch.setAttribute('r', 9);
  swatch.setAttribute('fill', windowColors[i]);
  swatch.setAttribute('fill-opacity', dotOpacities[i]);
  
  
  legendLayer.appendChild(swatch);
  const txt = document.createElementNS(NS, 'text');
  txt.setAttribute('x', 375);
  txt.setAttribute('y', legendTextY[i]);
  txt.setAttribute('class', 'leg');
  txt.textContent = windowLabels[i];
  
  
  legendLayer.appendChild(txt);
});
</script>
</body>
</html>
